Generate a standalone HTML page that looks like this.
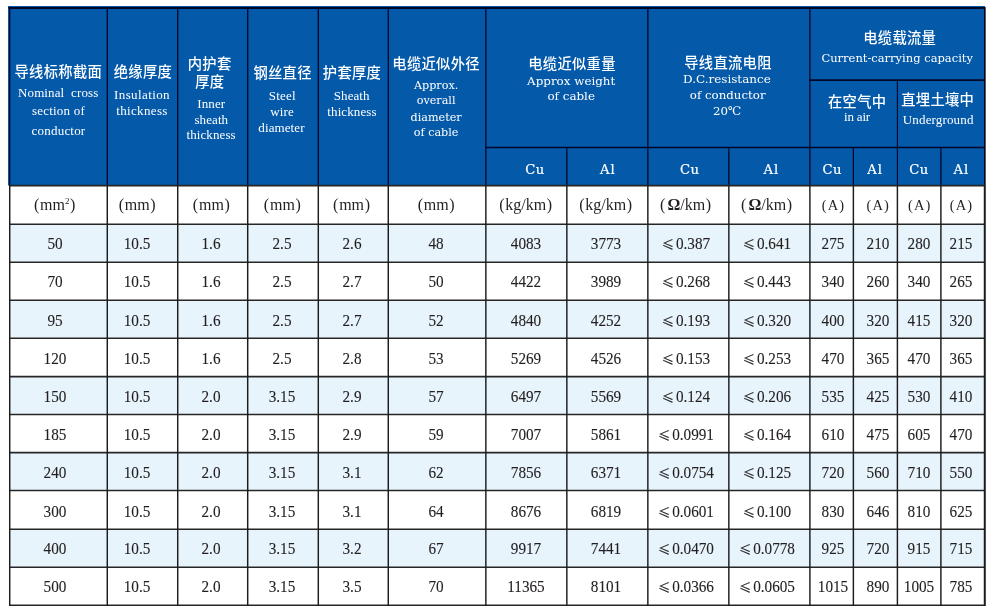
<!DOCTYPE html>
<html><head><meta charset="utf-8"><style>
html,body{margin:0;padding:0;background:#fff;}
body{width:986px;height:611px;position:relative;overflow:hidden;}
.tl{position:absolute;left:0;top:0;width:986px;height:611px;will-change:transform;}
.t{position:absolute;line-height:20px;text-align:center;white-space:nowrap;}
sup{font-size:9px;vertical-align:6px;line-height:0;}
.le{font-family:'Noto Sans CJK SC',sans-serif;letter-spacing:0;font-size:13px;margin-right:1.8px;}
.d{transform:scaleX(0.95);-webkit-text-stroke:0.12px #231f20;}
.cu{-webkit-text-stroke:0.2px #fff;}
.lp{margin-right:0.8px;}
.lpw{margin-right:2.2px;}
.rp{margin-left:0.6px;}
b{font-weight:700;}
</style></head><body>
<svg width="986" height="611" viewBox="0 0 986 611" style="position:absolute;left:0;top:0"><rect x="8" y="6" width="977" height="179.6" fill="#0459a9"/><rect x="9" y="185.6" width="976" height="38.60" fill="#ffffff"/><rect x="9" y="224.2" width="976" height="38.00" fill="#e8f4fc"/><rect x="9" y="262.2" width="976" height="38.00" fill="#ffffff"/><rect x="9" y="300.2" width="976" height="38.00" fill="#e8f4fc"/><rect x="9" y="338.2" width="976" height="38.40" fill="#ffffff"/><rect x="9" y="376.6" width="976" height="37.95" fill="#e8f4fc"/><rect x="9" y="414.55" width="976" height="38.05" fill="#ffffff"/><rect x="9" y="452.6" width="976" height="37.95" fill="#e8f4fc"/><rect x="9" y="490.55" width="976" height="38.65" fill="#ffffff"/><rect x="9" y="529.2" width="976" height="38.00" fill="#e8f4fc"/><rect x="9" y="567.2" width="976" height="38.00" fill="#ffffff"/><rect x="985" y="7" width="1" height="599" fill="#5a5e5a"/><line x1="8.5" y1="8" x2="985" y2="8" stroke="#000626" stroke-width="2"/><line x1="485.5" y1="147.5" x2="984.5" y2="147.5" stroke="#000626" stroke-width="1.4"/><line x1="809.5" y1="80.1" x2="984.5" y2="80.1" stroke="#000626" stroke-width="1.6"/><line x1="9.72" y1="7" x2="9.72" y2="185.6" stroke="#000626" stroke-width="1.3"/><line x1="107.28" y1="7" x2="107.28" y2="185.6" stroke="#000626" stroke-width="1.3"/><line x1="177.72" y1="7" x2="177.72" y2="185.6" stroke="#000626" stroke-width="1.3"/><line x1="247.7" y1="7" x2="247.7" y2="185.6" stroke="#000626" stroke-width="1.3"/><line x1="318.3" y1="7" x2="318.3" y2="185.6" stroke="#000626" stroke-width="1.3"/><line x1="388.28" y1="7" x2="388.28" y2="185.6" stroke="#000626" stroke-width="1.3"/><line x1="485.85" y1="7" x2="485.85" y2="185.6" stroke="#000626" stroke-width="1.3"/><line x1="647.85" y1="7" x2="647.85" y2="185.6" stroke="#000626" stroke-width="1.3"/><line x1="809.9" y1="7" x2="809.9" y2="185.6" stroke="#000626" stroke-width="1.3"/><line x1="566.85" y1="147.5" x2="566.85" y2="185.6" stroke="#000626" stroke-width="1.3"/><line x1="728.85" y1="147.5" x2="728.85" y2="185.6" stroke="#000626" stroke-width="1.3"/><line x1="853.38" y1="147.5" x2="853.38" y2="185.6" stroke="#000626" stroke-width="1.3"/><line x1="940.9" y1="147.5" x2="940.9" y2="185.6" stroke="#000626" stroke-width="1.3"/><line x1="897.4" y1="80.1" x2="897.4" y2="185.6" stroke="#000626" stroke-width="1.1"/><line x1="984.5" y1="7" x2="984.5" y2="185.6" stroke="#000626" stroke-width="1.0"/><line x1="9" y1="185.6" x2="985" y2="185.6" stroke="#262626" stroke-width="1.6"/><line x1="9" y1="224.2" x2="985" y2="224.2" stroke="#262626" stroke-width="1.6"/><line x1="9" y1="262.2" x2="985" y2="262.2" stroke="#262626" stroke-width="1.6"/><line x1="9" y1="300.2" x2="985" y2="300.2" stroke="#262626" stroke-width="1.6"/><line x1="9" y1="338.2" x2="985" y2="338.2" stroke="#262626" stroke-width="1.6"/><line x1="9" y1="376.6" x2="985" y2="376.6" stroke="#262626" stroke-width="1.6"/><line x1="9" y1="414.55" x2="985" y2="414.55" stroke="#262626" stroke-width="1.6"/><line x1="9" y1="452.6" x2="985" y2="452.6" stroke="#262626" stroke-width="1.6"/><line x1="9" y1="490.55" x2="985" y2="490.55" stroke="#262626" stroke-width="1.6"/><line x1="9" y1="529.2" x2="985" y2="529.2" stroke="#262626" stroke-width="1.6"/><line x1="9" y1="567.2" x2="985" y2="567.2" stroke="#262626" stroke-width="1.6"/><line x1="9" y1="605.2" x2="985" y2="605.2" stroke="#262626" stroke-width="1.6"/><line x1="9.72" y1="185.6" x2="9.72" y2="606" stroke="#1c1c1c" stroke-width="1.45"/><line x1="107.28" y1="185.6" x2="107.28" y2="606" stroke="#1c1c1c" stroke-width="1.45"/><line x1="177.72" y1="185.6" x2="177.72" y2="606" stroke="#1c1c1c" stroke-width="1.45"/><line x1="247.7" y1="185.6" x2="247.7" y2="606" stroke="#1c1c1c" stroke-width="1.45"/><line x1="318.3" y1="185.6" x2="318.3" y2="606" stroke="#1c1c1c" stroke-width="1.45"/><line x1="388.28" y1="185.6" x2="388.28" y2="606" stroke="#1c1c1c" stroke-width="1.45"/><line x1="485.85" y1="185.6" x2="485.85" y2="606" stroke="#1c1c1c" stroke-width="1.45"/><line x1="566.85" y1="185.6" x2="566.85" y2="606" stroke="#1c1c1c" stroke-width="1.45"/><line x1="647.85" y1="185.6" x2="647.85" y2="606" stroke="#1c1c1c" stroke-width="1.45"/><line x1="728.85" y1="185.6" x2="728.85" y2="606" stroke="#1c1c1c" stroke-width="1.45"/><line x1="809.9" y1="185.6" x2="809.9" y2="606" stroke="#1c1c1c" stroke-width="1.45"/><line x1="853.38" y1="185.6" x2="853.38" y2="606" stroke="#1c1c1c" stroke-width="1.45"/><line x1="897.4" y1="185.6" x2="897.4" y2="606" stroke="#1c1c1c" stroke-width="1.45"/><line x1="940.9" y1="185.6" x2="940.9" y2="606" stroke="#1c1c1c" stroke-width="1.45"/><line x1="984.5" y1="185.6" x2="984.5" y2="606" stroke="#1c1c1c" stroke-width="1.45"/></svg>
<div class="tl"><div class="t" style="left:-91.70px;top:60.80px;width:300px;font-family:'Noto Sans CJK SC','WenQuanYi Zen Hei',sans-serif;font-size:14.3px;color:#ffffff;letter-spacing:0.3px;font-weight:500">导线标称截面</div><div class="t" style="left:-91.80px;top:82.70px;width:300px;font-family:'Liberation Serif','Noto Serif CJK SC',serif;font-size:13px;color:#ffffff;letter-spacing:0.12px;font-weight:400">Nominal&nbsp;&nbsp;cross</div><div class="t" style="left:-91.50px;top:101.40px;width:300px;font-family:'Liberation Serif','Noto Serif CJK SC',serif;font-size:13px;color:#ffffff;letter-spacing:0.2px;font-weight:400">section of</div><div class="t" style="left:-91.50px;top:120.50px;width:300px;font-family:'Liberation Serif','Noto Serif CJK SC',serif;font-size:13px;color:#ffffff;letter-spacing:0.2px;font-weight:400">conductor</div><div class="t" style="left:-7.10px;top:61.20px;width:300px;font-family:'Noto Sans CJK SC','WenQuanYi Zen Hei',sans-serif;font-size:14.3px;color:#ffffff;letter-spacing:0.3px;font-weight:500">绝缘厚度</div><div class="t" style="left:-8.00px;top:85.10px;width:300px;font-family:'Liberation Serif','Noto Serif CJK SC',serif;font-size:13px;color:#ffffff;letter-spacing:0.4px;font-weight:400">Insulation</div><div class="t" style="left:-8.00px;top:100.70px;width:300px;font-family:'Liberation Serif','Noto Serif CJK SC',serif;font-size:13px;color:#ffffff;letter-spacing:0.35px;font-weight:400">thickness</div><div class="t" style="left:59.60px;top:52.80px;width:300px;font-family:'Noto Sans CJK SC','WenQuanYi Zen Hei',sans-serif;font-size:14.3px;color:#ffffff;letter-spacing:0.3px;font-weight:500">内护套</div><div class="t" style="left:59.80px;top:71.30px;width:300px;font-family:'Noto Sans CJK SC','WenQuanYi Zen Hei',sans-serif;font-size:14.3px;color:#ffffff;letter-spacing:0.3px;font-weight:500">厚度</div><div class="t" style="left:61.30px;top:94.10px;width:300px;font-family:'Liberation Serif','Noto Serif CJK SC',serif;font-size:13px;color:#ffffff;letter-spacing:0.1px;font-weight:400">Inner</div><div class="t" style="left:61.30px;top:109.70px;width:300px;font-family:'Liberation Serif','Noto Serif CJK SC',serif;font-size:13px;color:#ffffff;letter-spacing:0.1px;font-weight:400">sheath</div><div class="t" style="left:61.10px;top:125.20px;width:300px;font-family:'Liberation Serif','Noto Serif CJK SC',serif;font-size:13px;color:#ffffff;letter-spacing:0.1px;font-weight:400">thickness</div><div class="t" style="left:132.60px;top:61.70px;width:300px;font-family:'Noto Sans CJK SC','WenQuanYi Zen Hei',sans-serif;font-size:14.3px;color:#ffffff;letter-spacing:0.3px;font-weight:500">钢丝直径</div><div class="t" style="left:132.30px;top:86.30px;width:300px;font-family:'Liberation Serif','Noto Serif CJK SC',serif;font-size:13px;color:#ffffff;letter-spacing:0.25px;font-weight:400">Steel</div><div class="t" style="left:132.10px;top:101.90px;width:300px;font-family:'Liberation Serif','Noto Serif CJK SC',serif;font-size:13px;color:#ffffff;letter-spacing:0.1px;font-weight:400">wire</div><div class="t" style="left:131.50px;top:117.60px;width:300px;font-family:'Liberation Serif','Noto Serif CJK SC',serif;font-size:13px;color:#ffffff;letter-spacing:0.1px;font-weight:400">diameter</div><div class="t" style="left:202.00px;top:61.70px;width:300px;font-family:'Noto Sans CJK SC','WenQuanYi Zen Hei',sans-serif;font-size:14.3px;color:#ffffff;letter-spacing:0.3px;font-weight:500">护套厚度</div><div class="t" style="left:201.70px;top:85.50px;width:300px;font-family:'Liberation Serif','Noto Serif CJK SC',serif;font-size:13px;color:#ffffff;letter-spacing:0.06px;font-weight:400">Sheath</div><div class="t" style="left:202.00px;top:101.60px;width:300px;font-family:'Liberation Serif','Noto Serif CJK SC',serif;font-size:13px;color:#ffffff;letter-spacing:0.1px;font-weight:400">thickness</div><div class="t" style="left:286.10px;top:52.70px;width:300px;font-family:'Noto Sans CJK SC','WenQuanYi Zen Hei',sans-serif;font-size:14.3px;color:#ffffff;letter-spacing:0.3px;font-weight:500">电缆近似外径</div><div class="t" style="left:286.10px;top:76.00px;width:300px;font-family:'DejaVu Serif','Liberation Serif','Noto Serif CJK SC',serif;font-size:11.2px;color:#ffffff;letter-spacing:0px;font-weight:400">Approx.</div><div class="t" style="left:286.10px;top:91.40px;width:300px;font-family:'DejaVu Serif','Liberation Serif','Noto Serif CJK SC',serif;font-size:11.2px;color:#ffffff;letter-spacing:0px;font-weight:400">overall</div><div class="t" style="left:286.10px;top:107.50px;width:300px;font-family:'DejaVu Serif','Liberation Serif','Noto Serif CJK SC',serif;font-size:11.2px;color:#ffffff;letter-spacing:0px;font-weight:400">diameter</div><div class="t" style="left:286.10px;top:123.00px;width:300px;font-family:'DejaVu Serif','Liberation Serif','Noto Serif CJK SC',serif;font-size:11.2px;color:#ffffff;letter-spacing:0px;font-weight:400">of cable</div><div class="t" style="left:422.00px;top:52.70px;width:300px;font-family:'Noto Sans CJK SC','WenQuanYi Zen Hei',sans-serif;font-size:14.3px;color:#ffffff;letter-spacing:0.3px;font-weight:500">电缆近似重量</div><div class="t" style="left:421.20px;top:70.70px;width:300px;font-family:'DejaVu Serif','Liberation Serif','Noto Serif CJK SC',serif;font-size:11.9px;color:#ffffff;letter-spacing:0px;font-weight:400">Approx weight</div><div class="t" style="left:421.20px;top:86.30px;width:300px;font-family:'DejaVu Serif','Liberation Serif','Noto Serif CJK SC',serif;font-size:11.9px;color:#ffffff;letter-spacing:0px;font-weight:400">of cable</div><div class="t" style="left:578.00px;top:51.50px;width:300px;font-family:'Noto Sans CJK SC','WenQuanYi Zen Hei',sans-serif;font-size:14.3px;color:#ffffff;letter-spacing:0.3px;font-weight:500">导线直流电阻</div><div class="t" style="left:576.90px;top:68.90px;width:300px;font-family:'DejaVu Serif','Liberation Serif','Noto Serif CJK SC',serif;font-size:11.95px;color:#ffffff;letter-spacing:0px;font-weight:400">D.C.resistance</div><div class="t" style="left:577.70px;top:85.00px;width:300px;font-family:'DejaVu Serif','Liberation Serif','Noto Serif CJK SC',serif;font-size:11.8px;color:#ffffff;letter-spacing:0px;font-weight:400">of conductor</div><div class="t" style="left:577.20px;top:100.70px;width:300px;font-family:'DejaVu Serif','Liberation Serif','Noto Serif CJK SC',serif;font-size:11.8px;color:#ffffff;letter-spacing:0px;font-weight:400">20℃</div><div class="t" style="left:749.70px;top:27.10px;width:300px;font-family:'Noto Sans CJK SC','WenQuanYi Zen Hei',sans-serif;font-size:14.3px;color:#ffffff;letter-spacing:0.3px;font-weight:500">电缆载流量</div><div class="t" style="left:747.20px;top:48.00px;width:300px;font-family:'DejaVu Serif','Liberation Serif','Noto Serif CJK SC',serif;font-size:11.5px;color:#ffffff;letter-spacing:0px;font-weight:400">Current-carrying capacity</div><div class="t" style="left:707.20px;top:90.70px;width:300px;font-family:'Noto Sans CJK SC','WenQuanYi Zen Hei',sans-serif;font-size:14.3px;color:#ffffff;letter-spacing:0.3px;font-weight:500">在空气中</div><div class="t" style="left:707.00px;top:107.40px;width:300px;font-family:'Liberation Serif','Noto Serif CJK SC',serif;font-size:13px;color:#ffffff;letter-spacing:-0.2px;font-weight:400">in air</div><div class="t" style="left:787.70px;top:89.40px;width:300px;font-family:'Noto Sans CJK SC','WenQuanYi Zen Hei',sans-serif;font-size:14.3px;color:#ffffff;letter-spacing:0.3px;font-weight:500">直埋土壤中</div><div class="t" style="left:788.20px;top:110.30px;width:300px;font-family:'Liberation Serif','Noto Serif CJK SC',serif;font-size:13px;color:#ffffff;letter-spacing:0.15px;font-weight:400">Underground</div><div class="t cu" style="left:385.00px;top:160.10px;width:300px;font-family:'DejaVu Serif','Liberation Serif','Noto Serif CJK SC',serif;font-size:13.2px;color:#ffffff;letter-spacing:0.4px;font-weight:400">Cu</div><div class="t cu" style="left:457.90px;top:160.10px;width:300px;font-family:'DejaVu Serif','Liberation Serif','Noto Serif CJK SC',serif;font-size:13.2px;color:#ffffff;letter-spacing:1.0px;font-weight:400">Al</div><div class="t cu" style="left:539.80px;top:160.10px;width:300px;font-family:'DejaVu Serif','Liberation Serif','Noto Serif CJK SC',serif;font-size:13.2px;color:#ffffff;letter-spacing:0.4px;font-weight:400">Cu</div><div class="t cu" style="left:621.40px;top:160.10px;width:300px;font-family:'DejaVu Serif','Liberation Serif','Noto Serif CJK SC',serif;font-size:13.2px;color:#ffffff;letter-spacing:1.0px;font-weight:400">Al</div><div class="t cu" style="left:682.20px;top:160.10px;width:300px;font-family:'DejaVu Serif','Liberation Serif','Noto Serif CJK SC',serif;font-size:13.2px;color:#ffffff;letter-spacing:0.4px;font-weight:400">Cu</div><div class="t cu" style="left:725.00px;top:160.10px;width:300px;font-family:'DejaVu Serif','Liberation Serif','Noto Serif CJK SC',serif;font-size:13.2px;color:#ffffff;letter-spacing:1.0px;font-weight:400">Al</div><div class="t cu" style="left:768.90px;top:160.10px;width:300px;font-family:'DejaVu Serif','Liberation Serif','Noto Serif CJK SC',serif;font-size:13.2px;color:#ffffff;letter-spacing:0.4px;font-weight:400">Cu</div><div class="t cu" style="left:811.40px;top:160.10px;width:300px;font-family:'DejaVu Serif','Liberation Serif','Noto Serif CJK SC',serif;font-size:13.2px;color:#ffffff;letter-spacing:1.0px;font-weight:400">Al</div><div class="t" style="left:-95.40px;top:194.50px;width:300px;font-family:'Liberation Serif','Noto Serif CJK SC',serif;font-size:16px;color:#231f20;letter-spacing:0px;font-weight:400"><span class="lp">(</span>mm<sup>2</sup><span class="rp">)</span></div><div class="t" style="left:-12.80px;top:194.50px;width:300px;font-family:'Liberation Serif','Noto Serif CJK SC',serif;font-size:16px;color:#231f20;letter-spacing:0px;font-weight:400"><span class="lp">(</span>mm<span class="rp">)</span></div><div class="t" style="left:61.30px;top:194.50px;width:300px;font-family:'Liberation Serif','Noto Serif CJK SC',serif;font-size:16px;color:#231f20;letter-spacing:0px;font-weight:400"><span class="lp">(</span>mm<span class="rp">)</span></div><div class="t" style="left:132.30px;top:194.50px;width:300px;font-family:'Liberation Serif','Noto Serif CJK SC',serif;font-size:16px;color:#231f20;letter-spacing:0px;font-weight:400"><span class="lp">(</span>mm<span class="rp">)</span></div><div class="t" style="left:201.50px;top:194.50px;width:300px;font-family:'Liberation Serif','Noto Serif CJK SC',serif;font-size:16px;color:#231f20;letter-spacing:0px;font-weight:400"><span class="lp">(</span>mm<span class="rp">)</span></div><div class="t" style="left:286.20px;top:194.50px;width:300px;font-family:'Liberation Serif','Noto Serif CJK SC',serif;font-size:16px;color:#231f20;letter-spacing:0px;font-weight:400"><span class="lp">(</span>mm<span class="rp">)</span></div><div class="t" style="left:375.60px;top:194.50px;width:300px;font-family:'Liberation Serif','Noto Serif CJK SC',serif;font-size:16px;color:#231f20;letter-spacing:0px;font-weight:400"><span class="lp">(</span>kg/km<span class="rp">)</span></div><div class="t" style="left:455.70px;top:194.50px;width:300px;font-family:'Liberation Serif','Noto Serif CJK SC',serif;font-size:16px;color:#231f20;letter-spacing:0px;font-weight:400"><span class="lp">(</span>kg/km<span class="rp">)</span></div><div class="t" style="left:535.50px;top:194.50px;width:300px;font-family:'Liberation Serif','Noto Serif CJK SC',serif;font-size:16px;color:#231f20;letter-spacing:0px;font-weight:400"><span class="lp lpw">(</span><b>Ω</b>/km<span class="rp">)</span></div><div class="t" style="left:616.60px;top:194.50px;width:300px;font-family:'Liberation Serif','Noto Serif CJK SC',serif;font-size:16px;color:#231f20;letter-spacing:0px;font-weight:400"><span class="lp lpw">(</span><b>Ω</b>/km<span class="rp">)</span></div><div class="t" style="left:683.10px;top:194.50px;width:300px;font-family:'Liberation Serif','Noto Serif CJK SC',serif;font-size:14.5px;color:#231f20;letter-spacing:0.3px;font-weight:400"><span class="lp">(</span>A<span class="rp">)</span></div><div class="t" style="left:727.80px;top:194.50px;width:300px;font-family:'Liberation Serif','Noto Serif CJK SC',serif;font-size:14.5px;color:#231f20;letter-spacing:0.3px;font-weight:400"><span class="lp">(</span>A<span class="rp">)</span></div><div class="t" style="left:769.30px;top:194.50px;width:300px;font-family:'Liberation Serif','Noto Serif CJK SC',serif;font-size:14.5px;color:#231f20;letter-spacing:0.3px;font-weight:400"><span class="lp">(</span>A<span class="rp">)</span></div><div class="t" style="left:811.10px;top:194.50px;width:300px;font-family:'Liberation Serif','Noto Serif CJK SC',serif;font-size:14.5px;color:#231f20;letter-spacing:0.3px;font-weight:400"><span class="lp">(</span>A<span class="rp">)</span></div><div class="t d" style="left:-95.40px;top:233.50px;width:300px;font-family:'Liberation Serif','Noto Serif CJK SC',serif;font-size:16px;color:#231f20;letter-spacing:0px;font-weight:400">50</div><div class="t d" style="left:-12.80px;top:233.50px;width:300px;font-family:'Liberation Serif','Noto Serif CJK SC',serif;font-size:16px;color:#231f20;letter-spacing:0px;font-weight:400">10.5</div><div class="t d" style="left:61.30px;top:233.50px;width:300px;font-family:'Liberation Serif','Noto Serif CJK SC',serif;font-size:16px;color:#231f20;letter-spacing:0px;font-weight:400">1.6</div><div class="t d" style="left:132.30px;top:233.50px;width:300px;font-family:'Liberation Serif','Noto Serif CJK SC',serif;font-size:16px;color:#231f20;letter-spacing:0px;font-weight:400">2.5</div><div class="t d" style="left:201.50px;top:233.50px;width:300px;font-family:'Liberation Serif','Noto Serif CJK SC',serif;font-size:16px;color:#231f20;letter-spacing:0px;font-weight:400">2.6</div><div class="t d" style="left:286.20px;top:233.50px;width:300px;font-family:'Liberation Serif','Noto Serif CJK SC',serif;font-size:16px;color:#231f20;letter-spacing:0px;font-weight:400">48</div><div class="t d" style="left:375.60px;top:233.50px;width:300px;font-family:'Liberation Serif','Noto Serif CJK SC',serif;font-size:16px;color:#231f20;letter-spacing:0px;font-weight:400">4083</div><div class="t d" style="left:455.70px;top:233.50px;width:300px;font-family:'Liberation Serif','Noto Serif CJK SC',serif;font-size:16px;color:#231f20;letter-spacing:0px;font-weight:400">3773</div><div class="t d" style="left:535.50px;top:233.50px;width:300px;font-family:'Liberation Serif','Noto Serif CJK SC',serif;font-size:16px;color:#231f20;letter-spacing:0px;font-weight:400"><span class="le">≤</span>0.387</div><div class="t d" style="left:616.50px;top:233.50px;width:300px;font-family:'Liberation Serif','Noto Serif CJK SC',serif;font-size:16px;color:#231f20;letter-spacing:0px;font-weight:400"><span class="le">≤</span>0.641</div><div class="t d" style="left:683.10px;top:233.50px;width:300px;font-family:'Liberation Serif','Noto Serif CJK SC',serif;font-size:16px;color:#231f20;letter-spacing:0px;font-weight:400">275</div><div class="t d" style="left:727.80px;top:233.50px;width:300px;font-family:'Liberation Serif','Noto Serif CJK SC',serif;font-size:16px;color:#231f20;letter-spacing:0px;font-weight:400">210</div><div class="t d" style="left:769.30px;top:233.50px;width:300px;font-family:'Liberation Serif','Noto Serif CJK SC',serif;font-size:16px;color:#231f20;letter-spacing:0px;font-weight:400">280</div><div class="t d" style="left:811.10px;top:233.50px;width:300px;font-family:'Liberation Serif','Noto Serif CJK SC',serif;font-size:16px;color:#231f20;letter-spacing:0px;font-weight:400">215</div><div class="t d" style="left:-95.40px;top:271.70px;width:300px;font-family:'Liberation Serif','Noto Serif CJK SC',serif;font-size:16px;color:#231f20;letter-spacing:0px;font-weight:400">70</div><div class="t d" style="left:-12.80px;top:271.70px;width:300px;font-family:'Liberation Serif','Noto Serif CJK SC',serif;font-size:16px;color:#231f20;letter-spacing:0px;font-weight:400">10.5</div><div class="t d" style="left:61.30px;top:271.70px;width:300px;font-family:'Liberation Serif','Noto Serif CJK SC',serif;font-size:16px;color:#231f20;letter-spacing:0px;font-weight:400">1.6</div><div class="t d" style="left:132.30px;top:271.70px;width:300px;font-family:'Liberation Serif','Noto Serif CJK SC',serif;font-size:16px;color:#231f20;letter-spacing:0px;font-weight:400">2.5</div><div class="t d" style="left:201.50px;top:271.70px;width:300px;font-family:'Liberation Serif','Noto Serif CJK SC',serif;font-size:16px;color:#231f20;letter-spacing:0px;font-weight:400">2.7</div><div class="t d" style="left:286.20px;top:271.70px;width:300px;font-family:'Liberation Serif','Noto Serif CJK SC',serif;font-size:16px;color:#231f20;letter-spacing:0px;font-weight:400">50</div><div class="t d" style="left:375.60px;top:271.70px;width:300px;font-family:'Liberation Serif','Noto Serif CJK SC',serif;font-size:16px;color:#231f20;letter-spacing:0px;font-weight:400">4422</div><div class="t d" style="left:455.70px;top:271.70px;width:300px;font-family:'Liberation Serif','Noto Serif CJK SC',serif;font-size:16px;color:#231f20;letter-spacing:0px;font-weight:400">3989</div><div class="t d" style="left:535.50px;top:271.70px;width:300px;font-family:'Liberation Serif','Noto Serif CJK SC',serif;font-size:16px;color:#231f20;letter-spacing:0px;font-weight:400"><span class="le">≤</span>0.268</div><div class="t d" style="left:616.50px;top:271.70px;width:300px;font-family:'Liberation Serif','Noto Serif CJK SC',serif;font-size:16px;color:#231f20;letter-spacing:0px;font-weight:400"><span class="le">≤</span>0.443</div><div class="t d" style="left:683.10px;top:271.70px;width:300px;font-family:'Liberation Serif','Noto Serif CJK SC',serif;font-size:16px;color:#231f20;letter-spacing:0px;font-weight:400">340</div><div class="t d" style="left:727.80px;top:271.70px;width:300px;font-family:'Liberation Serif','Noto Serif CJK SC',serif;font-size:16px;color:#231f20;letter-spacing:0px;font-weight:400">260</div><div class="t d" style="left:769.30px;top:271.70px;width:300px;font-family:'Liberation Serif','Noto Serif CJK SC',serif;font-size:16px;color:#231f20;letter-spacing:0px;font-weight:400">340</div><div class="t d" style="left:811.10px;top:271.70px;width:300px;font-family:'Liberation Serif','Noto Serif CJK SC',serif;font-size:16px;color:#231f20;letter-spacing:0px;font-weight:400">265</div><div class="t d" style="left:-95.40px;top:310.50px;width:300px;font-family:'Liberation Serif','Noto Serif CJK SC',serif;font-size:16px;color:#231f20;letter-spacing:0px;font-weight:400">95</div><div class="t d" style="left:-12.80px;top:310.50px;width:300px;font-family:'Liberation Serif','Noto Serif CJK SC',serif;font-size:16px;color:#231f20;letter-spacing:0px;font-weight:400">10.5</div><div class="t d" style="left:61.30px;top:310.50px;width:300px;font-family:'Liberation Serif','Noto Serif CJK SC',serif;font-size:16px;color:#231f20;letter-spacing:0px;font-weight:400">1.6</div><div class="t d" style="left:132.30px;top:310.50px;width:300px;font-family:'Liberation Serif','Noto Serif CJK SC',serif;font-size:16px;color:#231f20;letter-spacing:0px;font-weight:400">2.5</div><div class="t d" style="left:201.50px;top:310.50px;width:300px;font-family:'Liberation Serif','Noto Serif CJK SC',serif;font-size:16px;color:#231f20;letter-spacing:0px;font-weight:400">2.7</div><div class="t d" style="left:286.20px;top:310.50px;width:300px;font-family:'Liberation Serif','Noto Serif CJK SC',serif;font-size:16px;color:#231f20;letter-spacing:0px;font-weight:400">52</div><div class="t d" style="left:375.60px;top:310.50px;width:300px;font-family:'Liberation Serif','Noto Serif CJK SC',serif;font-size:16px;color:#231f20;letter-spacing:0px;font-weight:400">4840</div><div class="t d" style="left:455.70px;top:310.50px;width:300px;font-family:'Liberation Serif','Noto Serif CJK SC',serif;font-size:16px;color:#231f20;letter-spacing:0px;font-weight:400">4252</div><div class="t d" style="left:535.50px;top:310.50px;width:300px;font-family:'Liberation Serif','Noto Serif CJK SC',serif;font-size:16px;color:#231f20;letter-spacing:0px;font-weight:400"><span class="le">≤</span>0.193</div><div class="t d" style="left:616.50px;top:310.50px;width:300px;font-family:'Liberation Serif','Noto Serif CJK SC',serif;font-size:16px;color:#231f20;letter-spacing:0px;font-weight:400"><span class="le">≤</span>0.320</div><div class="t d" style="left:683.10px;top:310.50px;width:300px;font-family:'Liberation Serif','Noto Serif CJK SC',serif;font-size:16px;color:#231f20;letter-spacing:0px;font-weight:400">400</div><div class="t d" style="left:727.80px;top:310.50px;width:300px;font-family:'Liberation Serif','Noto Serif CJK SC',serif;font-size:16px;color:#231f20;letter-spacing:0px;font-weight:400">320</div><div class="t d" style="left:769.30px;top:310.50px;width:300px;font-family:'Liberation Serif','Noto Serif CJK SC',serif;font-size:16px;color:#231f20;letter-spacing:0px;font-weight:400">415</div><div class="t d" style="left:811.10px;top:310.50px;width:300px;font-family:'Liberation Serif','Noto Serif CJK SC',serif;font-size:16px;color:#231f20;letter-spacing:0px;font-weight:400">320</div><div class="t d" style="left:-95.40px;top:348.60px;width:300px;font-family:'Liberation Serif','Noto Serif CJK SC',serif;font-size:16px;color:#231f20;letter-spacing:0px;font-weight:400">120</div><div class="t d" style="left:-12.80px;top:348.60px;width:300px;font-family:'Liberation Serif','Noto Serif CJK SC',serif;font-size:16px;color:#231f20;letter-spacing:0px;font-weight:400">10.5</div><div class="t d" style="left:61.30px;top:348.60px;width:300px;font-family:'Liberation Serif','Noto Serif CJK SC',serif;font-size:16px;color:#231f20;letter-spacing:0px;font-weight:400">1.6</div><div class="t d" style="left:132.30px;top:348.60px;width:300px;font-family:'Liberation Serif','Noto Serif CJK SC',serif;font-size:16px;color:#231f20;letter-spacing:0px;font-weight:400">2.5</div><div class="t d" style="left:201.50px;top:348.60px;width:300px;font-family:'Liberation Serif','Noto Serif CJK SC',serif;font-size:16px;color:#231f20;letter-spacing:0px;font-weight:400">2.8</div><div class="t d" style="left:286.20px;top:348.60px;width:300px;font-family:'Liberation Serif','Noto Serif CJK SC',serif;font-size:16px;color:#231f20;letter-spacing:0px;font-weight:400">53</div><div class="t d" style="left:375.60px;top:348.60px;width:300px;font-family:'Liberation Serif','Noto Serif CJK SC',serif;font-size:16px;color:#231f20;letter-spacing:0px;font-weight:400">5269</div><div class="t d" style="left:455.70px;top:348.60px;width:300px;font-family:'Liberation Serif','Noto Serif CJK SC',serif;font-size:16px;color:#231f20;letter-spacing:0px;font-weight:400">4526</div><div class="t d" style="left:535.50px;top:348.60px;width:300px;font-family:'Liberation Serif','Noto Serif CJK SC',serif;font-size:16px;color:#231f20;letter-spacing:0px;font-weight:400"><span class="le">≤</span>0.153</div><div class="t d" style="left:616.50px;top:348.60px;width:300px;font-family:'Liberation Serif','Noto Serif CJK SC',serif;font-size:16px;color:#231f20;letter-spacing:0px;font-weight:400"><span class="le">≤</span>0.253</div><div class="t d" style="left:683.10px;top:348.60px;width:300px;font-family:'Liberation Serif','Noto Serif CJK SC',serif;font-size:16px;color:#231f20;letter-spacing:0px;font-weight:400">470</div><div class="t d" style="left:727.80px;top:348.60px;width:300px;font-family:'Liberation Serif','Noto Serif CJK SC',serif;font-size:16px;color:#231f20;letter-spacing:0px;font-weight:400">365</div><div class="t d" style="left:769.30px;top:348.60px;width:300px;font-family:'Liberation Serif','Noto Serif CJK SC',serif;font-size:16px;color:#231f20;letter-spacing:0px;font-weight:400">470</div><div class="t d" style="left:811.10px;top:348.60px;width:300px;font-family:'Liberation Serif','Noto Serif CJK SC',serif;font-size:16px;color:#231f20;letter-spacing:0px;font-weight:400">365</div><div class="t d" style="left:-95.40px;top:386.68px;width:300px;font-family:'Liberation Serif','Noto Serif CJK SC',serif;font-size:16px;color:#231f20;letter-spacing:0px;font-weight:400">150</div><div class="t d" style="left:-12.80px;top:386.68px;width:300px;font-family:'Liberation Serif','Noto Serif CJK SC',serif;font-size:16px;color:#231f20;letter-spacing:0px;font-weight:400">10.5</div><div class="t d" style="left:61.30px;top:386.68px;width:300px;font-family:'Liberation Serif','Noto Serif CJK SC',serif;font-size:16px;color:#231f20;letter-spacing:0px;font-weight:400">2.0</div><div class="t d" style="left:132.30px;top:386.68px;width:300px;font-family:'Liberation Serif','Noto Serif CJK SC',serif;font-size:16px;color:#231f20;letter-spacing:0px;font-weight:400">3.15</div><div class="t d" style="left:201.50px;top:386.68px;width:300px;font-family:'Liberation Serif','Noto Serif CJK SC',serif;font-size:16px;color:#231f20;letter-spacing:0px;font-weight:400">2.9</div><div class="t d" style="left:286.20px;top:386.68px;width:300px;font-family:'Liberation Serif','Noto Serif CJK SC',serif;font-size:16px;color:#231f20;letter-spacing:0px;font-weight:400">57</div><div class="t d" style="left:375.60px;top:386.68px;width:300px;font-family:'Liberation Serif','Noto Serif CJK SC',serif;font-size:16px;color:#231f20;letter-spacing:0px;font-weight:400">6497</div><div class="t d" style="left:455.70px;top:386.68px;width:300px;font-family:'Liberation Serif','Noto Serif CJK SC',serif;font-size:16px;color:#231f20;letter-spacing:0px;font-weight:400">5569</div><div class="t d" style="left:535.50px;top:386.68px;width:300px;font-family:'Liberation Serif','Noto Serif CJK SC',serif;font-size:16px;color:#231f20;letter-spacing:0px;font-weight:400"><span class="le">≤</span>0.124</div><div class="t d" style="left:616.50px;top:386.68px;width:300px;font-family:'Liberation Serif','Noto Serif CJK SC',serif;font-size:16px;color:#231f20;letter-spacing:0px;font-weight:400"><span class="le">≤</span>0.206</div><div class="t d" style="left:683.10px;top:386.68px;width:300px;font-family:'Liberation Serif','Noto Serif CJK SC',serif;font-size:16px;color:#231f20;letter-spacing:0px;font-weight:400">535</div><div class="t d" style="left:727.80px;top:386.68px;width:300px;font-family:'Liberation Serif','Noto Serif CJK SC',serif;font-size:16px;color:#231f20;letter-spacing:0px;font-weight:400">425</div><div class="t d" style="left:769.30px;top:386.68px;width:300px;font-family:'Liberation Serif','Noto Serif CJK SC',serif;font-size:16px;color:#231f20;letter-spacing:0px;font-weight:400">530</div><div class="t d" style="left:811.10px;top:386.68px;width:300px;font-family:'Liberation Serif','Noto Serif CJK SC',serif;font-size:16px;color:#231f20;letter-spacing:0px;font-weight:400">410</div><div class="t d" style="left:-95.40px;top:424.68px;width:300px;font-family:'Liberation Serif','Noto Serif CJK SC',serif;font-size:16px;color:#231f20;letter-spacing:0px;font-weight:400">185</div><div class="t d" style="left:-12.80px;top:424.68px;width:300px;font-family:'Liberation Serif','Noto Serif CJK SC',serif;font-size:16px;color:#231f20;letter-spacing:0px;font-weight:400">10.5</div><div class="t d" style="left:61.30px;top:424.68px;width:300px;font-family:'Liberation Serif','Noto Serif CJK SC',serif;font-size:16px;color:#231f20;letter-spacing:0px;font-weight:400">2.0</div><div class="t d" style="left:132.30px;top:424.68px;width:300px;font-family:'Liberation Serif','Noto Serif CJK SC',serif;font-size:16px;color:#231f20;letter-spacing:0px;font-weight:400">3.15</div><div class="t d" style="left:201.50px;top:424.68px;width:300px;font-family:'Liberation Serif','Noto Serif CJK SC',serif;font-size:16px;color:#231f20;letter-spacing:0px;font-weight:400">2.9</div><div class="t d" style="left:286.20px;top:424.68px;width:300px;font-family:'Liberation Serif','Noto Serif CJK SC',serif;font-size:16px;color:#231f20;letter-spacing:0px;font-weight:400">59</div><div class="t d" style="left:375.60px;top:424.68px;width:300px;font-family:'Liberation Serif','Noto Serif CJK SC',serif;font-size:16px;color:#231f20;letter-spacing:0px;font-weight:400">7007</div><div class="t d" style="left:455.70px;top:424.68px;width:300px;font-family:'Liberation Serif','Noto Serif CJK SC',serif;font-size:16px;color:#231f20;letter-spacing:0px;font-weight:400">5861</div><div class="t d" style="left:535.50px;top:424.68px;width:300px;font-family:'Liberation Serif','Noto Serif CJK SC',serif;font-size:16px;color:#231f20;letter-spacing:0px;font-weight:400"><span class="le">≤</span>0.0991</div><div class="t d" style="left:616.50px;top:424.68px;width:300px;font-family:'Liberation Serif','Noto Serif CJK SC',serif;font-size:16px;color:#231f20;letter-spacing:0px;font-weight:400"><span class="le">≤</span>0.164</div><div class="t d" style="left:683.10px;top:424.68px;width:300px;font-family:'Liberation Serif','Noto Serif CJK SC',serif;font-size:16px;color:#231f20;letter-spacing:0px;font-weight:400">610</div><div class="t d" style="left:727.80px;top:424.68px;width:300px;font-family:'Liberation Serif','Noto Serif CJK SC',serif;font-size:16px;color:#231f20;letter-spacing:0px;font-weight:400">475</div><div class="t d" style="left:769.30px;top:424.68px;width:300px;font-family:'Liberation Serif','Noto Serif CJK SC',serif;font-size:16px;color:#231f20;letter-spacing:0px;font-weight:400">605</div><div class="t d" style="left:811.10px;top:424.68px;width:300px;font-family:'Liberation Serif','Noto Serif CJK SC',serif;font-size:16px;color:#231f20;letter-spacing:0px;font-weight:400">470</div><div class="t d" style="left:-95.40px;top:463.28px;width:300px;font-family:'Liberation Serif','Noto Serif CJK SC',serif;font-size:16px;color:#231f20;letter-spacing:0px;font-weight:400">240</div><div class="t d" style="left:-12.80px;top:463.28px;width:300px;font-family:'Liberation Serif','Noto Serif CJK SC',serif;font-size:16px;color:#231f20;letter-spacing:0px;font-weight:400">10.5</div><div class="t d" style="left:61.30px;top:463.28px;width:300px;font-family:'Liberation Serif','Noto Serif CJK SC',serif;font-size:16px;color:#231f20;letter-spacing:0px;font-weight:400">2.0</div><div class="t d" style="left:132.30px;top:463.28px;width:300px;font-family:'Liberation Serif','Noto Serif CJK SC',serif;font-size:16px;color:#231f20;letter-spacing:0px;font-weight:400">3.15</div><div class="t d" style="left:201.50px;top:463.28px;width:300px;font-family:'Liberation Serif','Noto Serif CJK SC',serif;font-size:16px;color:#231f20;letter-spacing:0px;font-weight:400">3.1</div><div class="t d" style="left:286.20px;top:463.28px;width:300px;font-family:'Liberation Serif','Noto Serif CJK SC',serif;font-size:16px;color:#231f20;letter-spacing:0px;font-weight:400">62</div><div class="t d" style="left:375.60px;top:463.28px;width:300px;font-family:'Liberation Serif','Noto Serif CJK SC',serif;font-size:16px;color:#231f20;letter-spacing:0px;font-weight:400">7856</div><div class="t d" style="left:455.70px;top:463.28px;width:300px;font-family:'Liberation Serif','Noto Serif CJK SC',serif;font-size:16px;color:#231f20;letter-spacing:0px;font-weight:400">6371</div><div class="t d" style="left:535.50px;top:463.28px;width:300px;font-family:'Liberation Serif','Noto Serif CJK SC',serif;font-size:16px;color:#231f20;letter-spacing:0px;font-weight:400"><span class="le">≤</span>0.0754</div><div class="t d" style="left:616.50px;top:463.28px;width:300px;font-family:'Liberation Serif','Noto Serif CJK SC',serif;font-size:16px;color:#231f20;letter-spacing:0px;font-weight:400"><span class="le">≤</span>0.125</div><div class="t d" style="left:683.10px;top:463.28px;width:300px;font-family:'Liberation Serif','Noto Serif CJK SC',serif;font-size:16px;color:#231f20;letter-spacing:0px;font-weight:400">720</div><div class="t d" style="left:727.80px;top:463.28px;width:300px;font-family:'Liberation Serif','Noto Serif CJK SC',serif;font-size:16px;color:#231f20;letter-spacing:0px;font-weight:400">560</div><div class="t d" style="left:769.30px;top:463.28px;width:300px;font-family:'Liberation Serif','Noto Serif CJK SC',serif;font-size:16px;color:#231f20;letter-spacing:0px;font-weight:400">710</div><div class="t d" style="left:811.10px;top:463.28px;width:300px;font-family:'Liberation Serif','Noto Serif CJK SC',serif;font-size:16px;color:#231f20;letter-spacing:0px;font-weight:400">550</div><div class="t d" style="left:-95.40px;top:501.53px;width:300px;font-family:'Liberation Serif','Noto Serif CJK SC',serif;font-size:16px;color:#231f20;letter-spacing:0px;font-weight:400">300</div><div class="t d" style="left:-12.80px;top:501.53px;width:300px;font-family:'Liberation Serif','Noto Serif CJK SC',serif;font-size:16px;color:#231f20;letter-spacing:0px;font-weight:400">10.5</div><div class="t d" style="left:61.30px;top:501.53px;width:300px;font-family:'Liberation Serif','Noto Serif CJK SC',serif;font-size:16px;color:#231f20;letter-spacing:0px;font-weight:400">2.0</div><div class="t d" style="left:132.30px;top:501.53px;width:300px;font-family:'Liberation Serif','Noto Serif CJK SC',serif;font-size:16px;color:#231f20;letter-spacing:0px;font-weight:400">3.15</div><div class="t d" style="left:201.50px;top:501.53px;width:300px;font-family:'Liberation Serif','Noto Serif CJK SC',serif;font-size:16px;color:#231f20;letter-spacing:0px;font-weight:400">3.1</div><div class="t d" style="left:286.20px;top:501.53px;width:300px;font-family:'Liberation Serif','Noto Serif CJK SC',serif;font-size:16px;color:#231f20;letter-spacing:0px;font-weight:400">64</div><div class="t d" style="left:375.60px;top:501.53px;width:300px;font-family:'Liberation Serif','Noto Serif CJK SC',serif;font-size:16px;color:#231f20;letter-spacing:0px;font-weight:400">8676</div><div class="t d" style="left:455.70px;top:501.53px;width:300px;font-family:'Liberation Serif','Noto Serif CJK SC',serif;font-size:16px;color:#231f20;letter-spacing:0px;font-weight:400">6819</div><div class="t d" style="left:535.50px;top:501.53px;width:300px;font-family:'Liberation Serif','Noto Serif CJK SC',serif;font-size:16px;color:#231f20;letter-spacing:0px;font-weight:400"><span class="le">≤</span>0.0601</div><div class="t d" style="left:616.50px;top:501.53px;width:300px;font-family:'Liberation Serif','Noto Serif CJK SC',serif;font-size:16px;color:#231f20;letter-spacing:0px;font-weight:400"><span class="le">≤</span>0.100</div><div class="t d" style="left:683.10px;top:501.53px;width:300px;font-family:'Liberation Serif','Noto Serif CJK SC',serif;font-size:16px;color:#231f20;letter-spacing:0px;font-weight:400">830</div><div class="t d" style="left:727.80px;top:501.53px;width:300px;font-family:'Liberation Serif','Noto Serif CJK SC',serif;font-size:16px;color:#231f20;letter-spacing:0px;font-weight:400">646</div><div class="t d" style="left:769.30px;top:501.53px;width:300px;font-family:'Liberation Serif','Noto Serif CJK SC',serif;font-size:16px;color:#231f20;letter-spacing:0px;font-weight:400">810</div><div class="t d" style="left:811.10px;top:501.53px;width:300px;font-family:'Liberation Serif','Noto Serif CJK SC',serif;font-size:16px;color:#231f20;letter-spacing:0px;font-weight:400">625</div><div class="t d" style="left:-95.40px;top:539.20px;width:300px;font-family:'Liberation Serif','Noto Serif CJK SC',serif;font-size:16px;color:#231f20;letter-spacing:0px;font-weight:400">400</div><div class="t d" style="left:-12.80px;top:539.20px;width:300px;font-family:'Liberation Serif','Noto Serif CJK SC',serif;font-size:16px;color:#231f20;letter-spacing:0px;font-weight:400">10.5</div><div class="t d" style="left:61.30px;top:539.20px;width:300px;font-family:'Liberation Serif','Noto Serif CJK SC',serif;font-size:16px;color:#231f20;letter-spacing:0px;font-weight:400">2.0</div><div class="t d" style="left:132.30px;top:539.20px;width:300px;font-family:'Liberation Serif','Noto Serif CJK SC',serif;font-size:16px;color:#231f20;letter-spacing:0px;font-weight:400">3.15</div><div class="t d" style="left:201.50px;top:539.20px;width:300px;font-family:'Liberation Serif','Noto Serif CJK SC',serif;font-size:16px;color:#231f20;letter-spacing:0px;font-weight:400">3.2</div><div class="t d" style="left:286.20px;top:539.20px;width:300px;font-family:'Liberation Serif','Noto Serif CJK SC',serif;font-size:16px;color:#231f20;letter-spacing:0px;font-weight:400">67</div><div class="t d" style="left:375.60px;top:539.20px;width:300px;font-family:'Liberation Serif','Noto Serif CJK SC',serif;font-size:16px;color:#231f20;letter-spacing:0px;font-weight:400">9917</div><div class="t d" style="left:455.70px;top:539.20px;width:300px;font-family:'Liberation Serif','Noto Serif CJK SC',serif;font-size:16px;color:#231f20;letter-spacing:0px;font-weight:400">7441</div><div class="t d" style="left:535.50px;top:539.20px;width:300px;font-family:'Liberation Serif','Noto Serif CJK SC',serif;font-size:16px;color:#231f20;letter-spacing:0px;font-weight:400"><span class="le">≤</span>0.0470</div><div class="t d" style="left:616.50px;top:539.20px;width:300px;font-family:'Liberation Serif','Noto Serif CJK SC',serif;font-size:16px;color:#231f20;letter-spacing:0px;font-weight:400"><span class="le">≤</span>0.0778</div><div class="t d" style="left:683.10px;top:539.20px;width:300px;font-family:'Liberation Serif','Noto Serif CJK SC',serif;font-size:16px;color:#231f20;letter-spacing:0px;font-weight:400">925</div><div class="t d" style="left:727.80px;top:539.20px;width:300px;font-family:'Liberation Serif','Noto Serif CJK SC',serif;font-size:16px;color:#231f20;letter-spacing:0px;font-weight:400">720</div><div class="t d" style="left:769.30px;top:539.20px;width:300px;font-family:'Liberation Serif','Noto Serif CJK SC',serif;font-size:16px;color:#231f20;letter-spacing:0px;font-weight:400">915</div><div class="t d" style="left:811.10px;top:539.20px;width:300px;font-family:'Liberation Serif','Noto Serif CJK SC',serif;font-size:16px;color:#231f20;letter-spacing:0px;font-weight:400">715</div><div class="t d" style="left:-95.40px;top:577.20px;width:300px;font-family:'Liberation Serif','Noto Serif CJK SC',serif;font-size:16px;color:#231f20;letter-spacing:0px;font-weight:400">500</div><div class="t d" style="left:-12.80px;top:577.20px;width:300px;font-family:'Liberation Serif','Noto Serif CJK SC',serif;font-size:16px;color:#231f20;letter-spacing:0px;font-weight:400">10.5</div><div class="t d" style="left:61.30px;top:577.20px;width:300px;font-family:'Liberation Serif','Noto Serif CJK SC',serif;font-size:16px;color:#231f20;letter-spacing:0px;font-weight:400">2.0</div><div class="t d" style="left:132.30px;top:577.20px;width:300px;font-family:'Liberation Serif','Noto Serif CJK SC',serif;font-size:16px;color:#231f20;letter-spacing:0px;font-weight:400">3.15</div><div class="t d" style="left:201.50px;top:577.20px;width:300px;font-family:'Liberation Serif','Noto Serif CJK SC',serif;font-size:16px;color:#231f20;letter-spacing:0px;font-weight:400">3.5</div><div class="t d" style="left:286.20px;top:577.20px;width:300px;font-family:'Liberation Serif','Noto Serif CJK SC',serif;font-size:16px;color:#231f20;letter-spacing:0px;font-weight:400">70</div><div class="t d" style="left:375.60px;top:577.20px;width:300px;font-family:'Liberation Serif','Noto Serif CJK SC',serif;font-size:16px;color:#231f20;letter-spacing:0px;font-weight:400">11365</div><div class="t d" style="left:455.70px;top:577.20px;width:300px;font-family:'Liberation Serif','Noto Serif CJK SC',serif;font-size:16px;color:#231f20;letter-spacing:0px;font-weight:400">8101</div><div class="t d" style="left:535.50px;top:577.20px;width:300px;font-family:'Liberation Serif','Noto Serif CJK SC',serif;font-size:16px;color:#231f20;letter-spacing:0px;font-weight:400"><span class="le">≤</span>0.0366</div><div class="t d" style="left:616.50px;top:577.20px;width:300px;font-family:'Liberation Serif','Noto Serif CJK SC',serif;font-size:16px;color:#231f20;letter-spacing:0px;font-weight:400"><span class="le">≤</span>0.0605</div><div class="t d" style="left:683.10px;top:577.20px;width:300px;font-family:'Liberation Serif','Noto Serif CJK SC',serif;font-size:16px;color:#231f20;letter-spacing:0px;font-weight:400">1015</div><div class="t d" style="left:727.80px;top:577.20px;width:300px;font-family:'Liberation Serif','Noto Serif CJK SC',serif;font-size:16px;color:#231f20;letter-spacing:0px;font-weight:400">890</div><div class="t d" style="left:769.30px;top:577.20px;width:300px;font-family:'Liberation Serif','Noto Serif CJK SC',serif;font-size:16px;color:#231f20;letter-spacing:0px;font-weight:400">1005</div><div class="t d" style="left:811.10px;top:577.20px;width:300px;font-family:'Liberation Serif','Noto Serif CJK SC',serif;font-size:16px;color:#231f20;letter-spacing:0px;font-weight:400">785</div></div>
</body></html>
